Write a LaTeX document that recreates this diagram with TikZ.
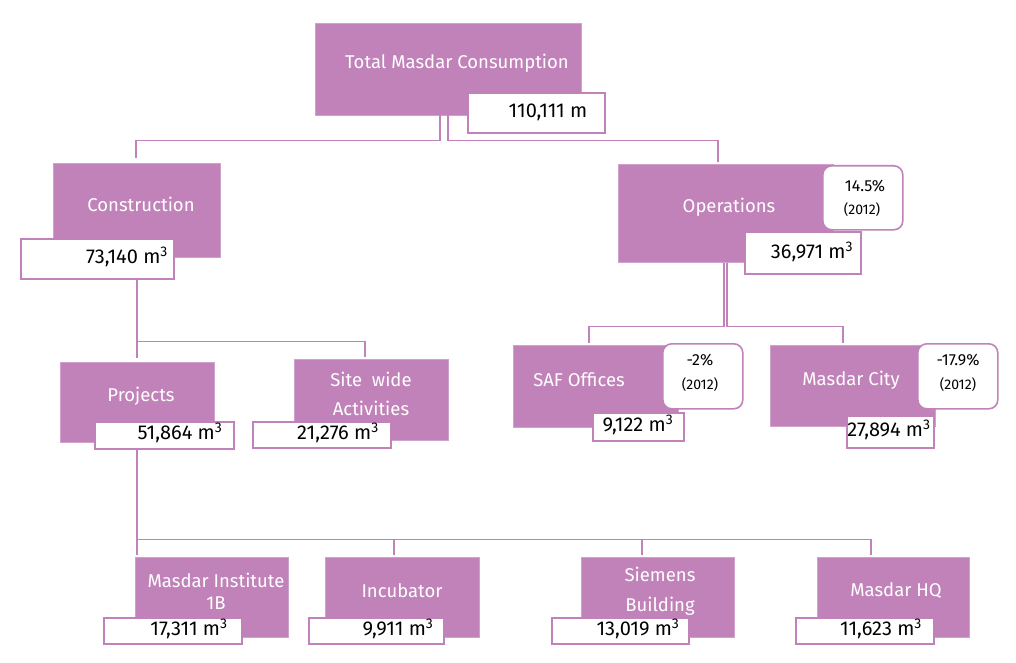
\documentclass[tikz,border=0pt]{standalone}
\usepackage{fontspec}
\setmainfont{Fira Sans}
\usetikzlibrary{calc}
\definecolor{pm}{RGB}{192,130,185}
\begin{document}
\begin{tikzpicture}[x=1pt,y=-1pt,
  pbox/.style={fill=pm, draw=pm!75!white, line width=0.5pt, inner sep=0pt, anchor=north west},
  vbox/.style={fill=white, draw=pm, line width=1.6pt, inner sep=0pt, anchor=north west},
  rbox/.style={vbox, rounded corners=9pt},
  ptext/.style={text=white, font=\fontsize{18.5}{22}\selectfont, align=center, inner sep=0pt},
  vtext/.style={text=black, font=\fontsize{20}{22}\selectfont, inner sep=0pt},
  stext/.style={text=black, font=\fontsize{16}{18}\selectfont, inner sep=0pt},
  ytext/.style={text=black, font=\fontsize{14}{16}\selectfont, inner sep=0pt},
  conn/.style={draw=pm, line width=1.6pt, shorten >=2pt}]
\useasboundingbox (0,0) rectangle (1016,663);
% top
\node[pbox, minimum width=266pt, minimum height=92pt] (total) at (315,23) {};
\node[vbox, minimum width=137pt, minimum height=40pt] (totv) at (467,92) {};
\node[ptext] (totalt) at (457,63) {Total Masdar Consumption};
\node[vtext] (totvt) at (548,112) {110,111 m};
% construction
\node[pbox, minimum width=167pt, minimum height=94pt] (constr) at (53,163) {};
\node[vbox, minimum width=153pt, minimum height=40pt] (conv) at (20,238) {};
\node[ptext] (constrt) at (141,204) {Construction};
\node[vtext] (convt) at (127,257) {73,140 m\textsuperscript{3}};
% operations
\node[pbox, minimum width=215pt, minimum height=98pt] (ops) at (618,164) {};
\node[rbox, minimum width=80pt, minimum height=64pt] (opsr) at (822,165) {};
\node[vbox, minimum width=116pt, minimum height=42pt] (opsv) at (744,231) {};
\node[ptext] (opst) at (729,207) {Operations};
\node[stext] (opsp) at (865,186) {14.5\%};
\node[ytext] (opsy) at (862,210) {(2012)};
\node[vtext] (opsvt) at (812,252) {36,971 m\textsuperscript{3}};
% projects
\node[pbox, minimum width=154pt, minimum height=80pt] (proj) at (60,362) {};
\node[vbox, minimum width=139pt, minimum height=27pt] (projv) at (94,421) {};
\node[ptext] (projt) at (141,396) {Projects};
\node[vtext] (projvt) at (180,433) {51,864 m\textsuperscript{3}};
% site wide
\node[pbox, minimum width=154pt, minimum height=81pt] (site) at (294,359) {};
\node[vbox, minimum width=138pt, minimum height=26pt] (sitev) at (252,421) {};
\node[ptext, font=\fontsize{18.5}{29}\selectfont] (sitet) at (371,394) {Site\ \ wide\\Activities};
\node[vtext] (sitevt) at (338,433) {21,276 m\textsuperscript{3}};
% SAF
\node[pbox, minimum width=165pt, minimum height=82pt] (saf) at (513,345) {};
\node[rbox, minimum width=80pt, minimum height=65pt] (safr) at (662,343) {};
\node[vbox, minimum width=91pt, minimum height=28pt] (safv) at (592,412) {};
\node[ptext] (saft) at (579,380) {SAF Offices};
\node[stext] (safp) at (700,360) {-2\%};
\node[ytext] (safy) at (700,385) {(2012)};
\node[vtext] (safvt) at (638,425) {9,122 m\textsuperscript{3}};
% Masdar City
\node[pbox, minimum width=165pt, minimum height=81pt] (mc) at (770,345) {};
\node[rbox, minimum width=80pt, minimum height=65pt] (mcr) at (917,343) {};
\node[vbox, minimum width=87pt, minimum height=32pt] (mcv) at (846,415) {};
\node[ptext] (mct) at (851,380) {Masdar City};
\node[stext] (mcp) at (958,360) {-17.9\%};
\node[ytext] (mcy) at (958,385) {(2012)};
\node[vtext] (mcvt) at (889,430) {27,894 m\textsuperscript{3}};
% bottom row
\node[pbox, minimum width=153pt, minimum height=80pt] (mi) at (135,557) {};
\node[vbox, minimum width=138pt, minimum height=26pt] (miv) at (103,617) {};
\node[ptext, font=\fontsize{18.5}{22}\selectfont] (mit) at (216,591) {Masdar Institute\\1B};
\node[vtext] (mivt) at (189,629) {17,311 m\textsuperscript{3}};
\node[pbox, minimum width=154pt, minimum height=80pt] (inc) at (325,557) {};
\node[vbox, minimum width=135pt, minimum height=26pt] (incv) at (308,617) {};
\node[ptext] (inct) at (402,591) {Incubator};
\node[vtext] (incvt) at (398,629) {9,911 m\textsuperscript{3}};
\node[pbox, minimum width=153pt, minimum height=80pt] (sie) at (581,557) {};
\node[vbox, minimum width=137pt, minimum height=26pt] (siev) at (551,617) {};
\node[ptext, font=\fontsize{18.5}{30}\selectfont] (siet) at (660,591) {Siemens\\Building};
\node[vtext] (sievt) at (638,629) {13,019 m\textsuperscript{3}};
\node[pbox, minimum width=152pt, minimum height=80pt] (hq) at (817,557) {};
\node[vbox, minimum width=138pt, minimum height=26pt] (hqv) at (795,617) {};
\node[ptext] (hqt) at (896,591) {Masdar HQ};
\node[vtext] (hqvt) at (881,629) {11,623 m\textsuperscript{3}};
% connectors
\draw[conn, shorten >=5pt] ($(total.south west)+(125,0)$) -- ++(0,25) -| ($(constr.north west)+(83,0)$);
\draw[conn] (total.south) -- ++(0,25) -| ($(ops.north west)+(100,0)$);
\draw[conn] ($(ops.south)+(-2,0)$) -- ++(0,64) -| ($(saf.north west)+(76,0)$);
\draw[conn] ($(ops.south)+(1,0)$) -- ++(0,64) -| ($(mc.north west)+(73,0)$);
\draw[conn, shorten >=4pt] ($(conv.south west)+(117,0)$) -- ($(proj.north west)+(77,0)$);
\draw[conn] ($(conv.south west)+(117,62)$) -| ($(site.north west)+(71,0)$);
\draw[conn] ($(projv.south west)+(43,0)$) -- ($(mi.north west)+(2,0)$);
\coordinate (bus) at ($(projv.south west)+(43,90)$);
\coordinate (incd) at ($(inc.north west)+(69,0)$);
\coordinate (sied) at ($(sie.north west)+(61,0)$);
\draw[conn] (bus) -| ($(hq.north west)+(54,0)$);
\draw[conn] (bus -| incd) -- (incd);
\draw[conn] (bus -| sied) -- (sied);
\end{tikzpicture}
\end{document}
